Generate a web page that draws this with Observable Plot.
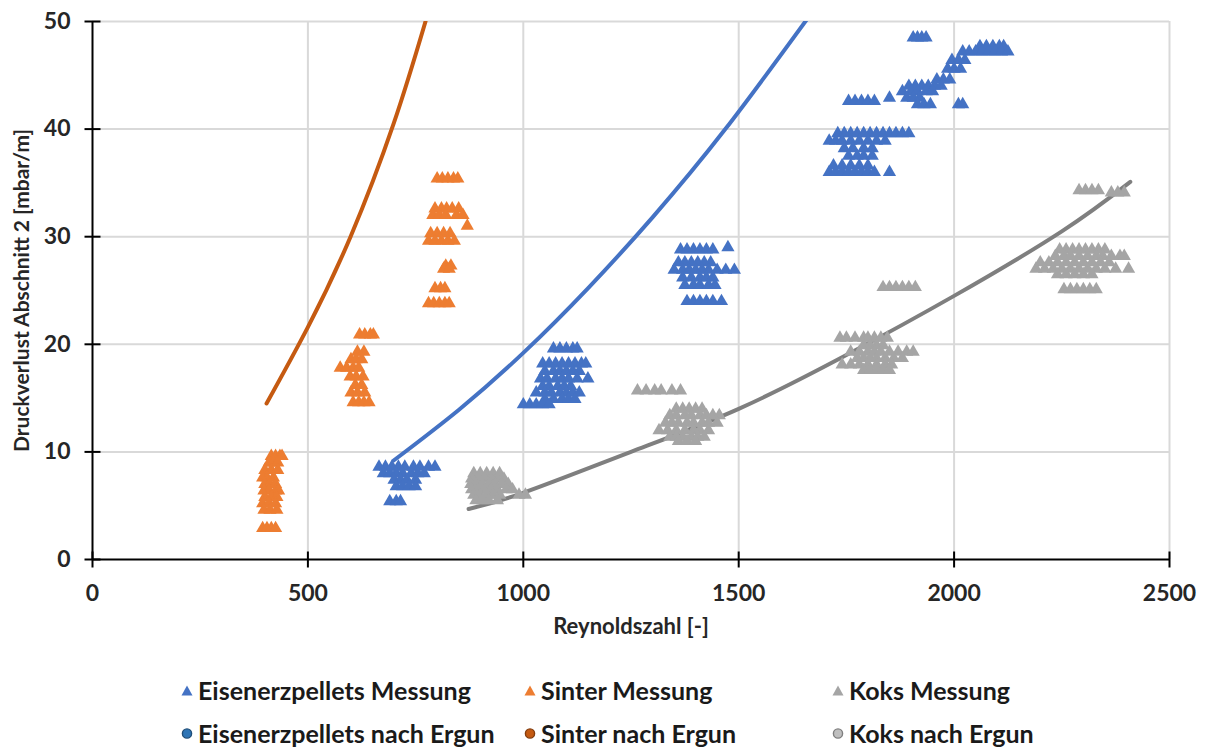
<!DOCTYPE html>
<html><head><meta charset="utf-8">
<script src="https://cdn.jsdelivr.net/npm/d3@7"></script>
<script src="https://cdn.jsdelivr.net/npm/@observablehq/plot@0.6"></script>
<style>
body{margin:0;background:#fff;font-family:Lato,"Open Sans",sans-serif;}
#wrap{position:relative;width:1207px;height:749px;overflow:hidden;}
#legend{position:absolute;left:0;top:0;width:1207px;height:749px;pointer-events:none;}
.item{position:absolute;display:flex;align-items:center;font-weight:bold;font-size:25px;line-height:1;color:#1a1a1a;white-space:nowrap;transform:translateY(-50%);}
.item svg{margin-right:5px;}
</style></head><body><div id="wrap"><div id="chart"></div><div id="legend"></div></div>
<script>
// ---- axis ticks ----
const xTicks = [0, 500, 1000, 1500, 2000, 2500];
const yTicks = [0, 10, 20, 30, 40, 50];
const xLabel = "Reynoldszahl [-]";
const yLabel = "Druckverlust Abschnitt 2 [mbar/m]";

// ---- measurements: rows of [pressure drop, [Reynolds numbers...]] ----
const sinterMessung = [
  [9.6,[415,425,435,440]],[9.0,[410,420,430]],[8.3,[400,415,430]],[7.6,[395,405,420]],
  [7.0,[400,412,425]],[6.4,[398,410,425,432]],[5.8,[400,415,428]],[5.2,[395,410,425]],
  [4.6,[398,412,428]],[2.9,[395,405,415,425]],
  [20.9,[620,632,645,652]],[19.3,[615,630]],[18.6,[600,612,625]],[17.8,[575,590,605,618]],
  [17.0,[598,612,628]],[16.2,[610,625]],[15.5,[600,615,632]],[14.6,[605,618,630,642]],
  [35.4,[800,812,825,838,848]],[32.6,[795,810,822,835,850]],[32.0,[790,805,820,845,860]],
  [31.0,[870]],[30.3,[785,800,815,830]],[29.6,[780,795,810,825,840]],[27.3,[820,832]],
  [27.0,[815,828]],[25.2,[795,808,818]],[23.8,[780,792,805,818,828]]
];
const eisenMessung = [
  [8.6,[665,680,695,710,725,745,760,780,795]],[8.0,[675,690,705,720,740,755,770]],
  [7.4,[700,715,730,750]],[6.8,[705,720,735,750]],[5.4,[690,705,715]],
  [19.6,[1070,1085,1100,1115,1125]],[18.2,[1045,1060,1075,1090,1105,1120,1135,1145]],
  [17.5,[1050,1070,1085,1100,1115,1130]],[16.8,[1040,1055,1075,1090,1105,1125,1150]],
  [16.1,[1045,1060,1080,1095,1110]],[15.5,[1030,1050,1065,1085,1100,1115,1130]],
  [14.9,[1050,1070,1090,1105,1120]],[14.4,[1000,1015,1030,1045,1060]],
  [28.8,[1365,1380,1395,1410,1425,1440]],[29.0,[1475]],[27.6,[1360,1375,1390,1405,1420,1435]],
  [26.9,[1350,1370,1385,1400,1415,1430,1450,1470,1490]],[26.2,[1370,1390,1410,1425,1440]],
  [25.5,[1375,1395,1410,1430,1445]],[24.0,[1380,1395,1410,1425,1440,1460]],
  [42.6,[1755,1770,1785,1800,1815]],
  [39.6,[1730,1745,1760,1775,1790,1805,1820,1835,1850,1865,1880,1895]],
  [38.9,[1710,1725,1740,1760,1780,1800,1820,1840]],[38.2,[1745,1765,1790,1810]],
  [37.5,[1755,1775,1790,1810]],[36.6,[1720,1740,1760,1780,1800]],
  [36.0,[1710,1725,1740,1755,1770,1785,1800,1815,1850]],
  [48.5,[1905,1915,1925,1935]],[47.7,[2060,2075,2090,2105,2115]],
  [47.2,[2020,2035,2050,2065,2080,2095,2110,2125]],[46.4,[1995,2010,2025]],
  [45.6,[1985,2000,2015]],[44.6,[1960,1975,1990]],[44.0,[1895,1910,1925,1940,1955,1970]],
  [43.5,[1880,1900,1915,1935,1950]],[42.9,[1850,1890,1905,1920]],[42.3,[1915,1930,1945,2010,2020]]
];
const koksMessung = [
  [8.0,[885,900,915,930,945]],[7.5,[880,895,910,925,940,955]],[7.0,[878,890,905,920,935,950,965]],
  [6.5,[880,895,910,925,940,960,975]],[6.0,[885,900,915,930,945,990,1005]],[5.5,[890,905,920,940]],
  [15.7,[1265,1285,1305,1320,1345,1365]],
  [14.0,[1355,1370,1385,1400,1415]],[13.4,[1340,1355,1375,1390,1410,1425,1440,1455]],
  [12.7,[1330,1345,1360,1380,1395,1415,1430,1450]],[12.0,[1315,1335,1355,1375,1395,1410,1430]],
  [11.4,[1340,1355,1370,1390,1405,1420]],[11.0,[1360,1380,1400]],
  [25.3,[1835,1850,1865,1880,1895,1910]],[20.6,[1735,1750,1770,1790,1800,1815,1830,1845]],
  [19.9,[1790,1805,1820,1835]],[19.3,[1760,1780,1800,1815,1830,1850,1870,1890,1905]],
  [18.7,[1775,1790,1805,1820,1840,1860,1880]],[18.1,[1740,1760,1780,1800,1820,1840,1855]],
  [17.6,[1790,1805,1820,1835,1850]],
  [34.3,[2290,2305,2320,2335]],[34.1,[2365,2380,2395]],
  [28.8,[2245,2260,2275,2290,2305,2320,2335,2350]],
  [28.2,[2235,2255,2270,2290,2310,2330,2345,2365,2385,2395]],
  [27.6,[2200,2220,2240,2260,2280,2300,2320,2340,2360]],
  [27.0,[2190,2210,2230,2250,2270,2290,2310,2330,2350,2375,2405]],
  [26.5,[2240,2260,2280,2300,2320]],[25.1,[2255,2270,2285,2300,2315,2330]]
];

// ---- Ergun curves ----
const sinterErgunRe = [404, 500, 599, 699, 773];
const sinterErgunY  = [14.5, 21.6, 30.0, 40.5, 50.0];
const eisenErgunRe  = [699, 850, 1000, 1150, 1300, 1469, 1662];
const eisenErgunY   = [9.2, 13.9, 19.2, 25.2, 31.8, 40.0, 50.4];
const koksErgunRe   = [873, 1000, 1250, 1500, 1750, 2000, 2250, 2409];
const koksErgunY    = [4.7, 6.2, 10.0, 14.0, 19.0, 24.5, 30.5, 35.1];

// ---- series / legend ----
const seriesNames = ["Eisenerzpellets Messung","Sinter Messung","Koks Messung",
                     "Eisenerzpellets nach Ergun","Sinter nach Ergun","Koks nach Ergun"];
const measColors = {"Eisenerzpellets Messung":"#4472c4","Sinter Messung":"#ed7d31","Koks Messung":"#a5a5a5"};
const lineColors = {"Eisenerzpellets nach Ergun":"#4472c4","Sinter nach Ergun":"#c55a11","Koks nach Ergun":"#7f7f7f"};
const legendCircle = {"Eisenerzpellets nach Ergun":["#2e75b6","#1f4e79"],"Sinter nach Ergun":["#c55a11","#843c0c"],"Koks nach Ergun":["#bfbfbf","#7f7f7f"]};

function flatten(rows, series){
  const out=[];
  for(const [y, res] of rows) for(const re of res) out.push({re, y, series});
  return out;
}
const points = [
  ...flatten(sinterMessung,"Sinter Messung"),
  ...flatten(eisenMessung,"Eisenerzpellets Messung"),
  ...flatten(koksMessung,"Koks Messung")
];
function curve(res, ys, series){ return res.map((re,i)=>({re, y: ys[i], series})); }
const curves = [
  curve(sinterErgunRe, sinterErgunY, "Sinter nach Ergun"),
  curve(eisenErgunRe, eisenErgunY, "Eisenerzpellets nach Ergun"),
  curve(koksErgunRe, koksErgunY, "Koks nach Ergun")
];

const vTick = {draw(ctx){ ctx.moveTo(0,-8); ctx.lineTo(0,8); }};
const hTick = {draw(ctx){ ctx.moveTo(-8,0); ctx.lineTo(8,0); }};

const chart = Plot.plot({
  width: 1207, height: 660,
  marginTop: 21, marginLeft: 92, marginRight: 38, marginBottom: 101,
  style: {fontFamily: "Lato, 'Open Sans', sans-serif", fontWeight: "bold", background: "#fff"},
  x: {domain: [0, 2500]},
  y: {domain: [0, 50]},
  marks: [
    Plot.ruleX(xTicks.filter(d => d > 0), {stroke: "#d9d9d9", strokeWidth: 2}),
    Plot.ruleY(yTicks.filter(d => d > 0), {stroke: "#d9d9d9", strokeWidth: 2}),
    ...curves.map(c => Plot.line(c, {x: "re", y: "y", stroke: lineColors[c[0].series], strokeWidth: 4, curve: "natural", clip: true})),
    ...["Sinter Messung","Eisenerzpellets Messung","Koks Messung"].map(s =>
      Plot.dot(points.filter(p => p.series === s), {x: "re", y: "y", symbol: "triangle", r: 4.9, fill: measColors[s], stroke: "none"})),
    Plot.ruleY([0], {stroke: "#000", strokeWidth: 2}),
    Plot.ruleX([0], {stroke: "#000", strokeWidth: 2}),
    Plot.dot(xTicks, {x: d => d, y: yTicks[0], symbol: vTick, stroke: "#000", strokeWidth: 2, fill: "none"}),
    Plot.dot(yTicks, {x: xTicks[0], y: d => d, symbol: hTick, stroke: "#000", strokeWidth: 2, fill: "none"}),
    Plot.axisX(xTicks, {tickSize: 0, tickPadding: 25, fontSize: 23, fontWeight: "bold", fill: "#262626", label: null, tickFormat: d => String(d)}),
    Plot.axisY(yTicks, {tickSize: 0, tickPadding: 22, fontSize: 23, fontWeight: "bold", fill: "#262626", label: null, tickFormat: d => String(d)}),
    Plot.text([xLabel], {frameAnchor: "bottom", dy: 74, text: d => d, textAnchor: "middle", fontSize: 22, fontWeight: "bold", fill: "#262626"}),
    Plot.text([yLabel], {frameAnchor: "left", dx: -70, rotate: -90, text: d => d, textAnchor: "middle", fontSize: 21, fontWeight: "bold", fill: "#262626"})
  ]
});
document.getElementById("chart").appendChild(chart);

// ---- legend (HTML below the SVG) ----
const legendCols = [181, 524, 832];
const legendRows = [690, 733];
const legend = document.getElementById("legend");
seriesNames.forEach((name, i) => {
  const col = i % 3, row = Math.floor(i / 3);
  const div = document.createElement("div");
  div.className = "item";
  div.style.left = legendCols[col] + "px";
  div.style.top = legendRows[row] + "px";
  let marker;
  if (row === 0) {
    marker = `<svg width="12" height="12" viewBox="0 0 12 12"><path d="M6 1 L11.5 11 L0.5 11 Z" fill="${measColors[name]}"/></svg>`;
  } else {
    const [f, s] = legendCircle[name];
    marker = `<svg width="12" height="12" viewBox="0 0 12 12"><circle cx="6" cy="6" r="4.6" fill="${f}" stroke="${s}" stroke-width="1.4"/></svg>`;
  }
  div.innerHTML = marker + `<span>${name}</span>`;
  legend.appendChild(div);
});
</script></body></html>
